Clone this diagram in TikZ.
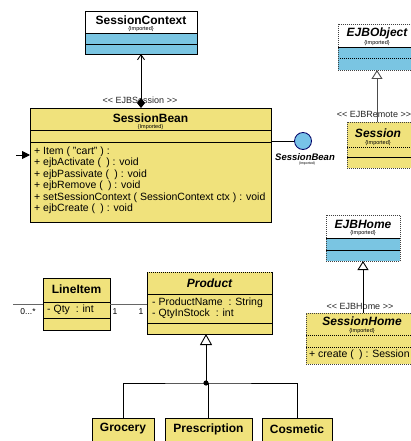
\documentclass[tikz,border=0pt]{standalone}
\usepackage{fontspec}
\setmainfont{Liberation Sans}
\usetikzlibrary{arrows.meta}
\definecolor{umlyellow}{RGB}{240,226,124}
\definecolor{umlblue}{RGB}{122,197,226}
\definecolor{circblue}{RGB}{120,195,232}
\begin{document}
\begin{tikzpicture}[x=1pt,y=-1pt,
  cbox/.style={draw=black, line width=0.8pt, inner sep=0pt, outer sep=0pt},
  dbox/.style={draw=black!75, line width=0.8pt, dash pattern=on 1pt off 1pt, inner sep=0pt, outer sep=0pt},
  sep/.style={line width=0.8pt},
  dsep/.style={line width=0.8pt, dash pattern=on 1pt off 1pt},
  ttl/.style={font=\fontsize{12}{14}\selectfont\bfseries, inner sep=0pt},
  ttli/.style={font=\fontsize{12}{14}\selectfont\bfseries\itshape, inner sep=0pt},
  imp/.style={font=\fontsize{5.5}{6}\selectfont, inner sep=0pt},
  mem/.style={font=\fontsize{10.5}{12}\selectfont, anchor=west, inner sep=0pt, text height=7.5pt, text depth=2pt},
  stereo/.style={font=\fontsize{9}{10}\selectfont, inner sep=0pt, text=black!85},
  mult/.style={font=\fontsize{8.5}{10}\selectfont, inner sep=0pt},
  conn/.style={line width=0.9pt},
  gconn/.style={line width=0.9pt, draw=black!60},
]
\clip (0,0) rectangle (411,441);
\fill[white] (0,0) rectangle (411,441);

% SessionContext
\node[cbox, fill=white, minimum width=112, minimum height=43] (sc) at (141,32.5) {};
\filldraw[fill=umlblue, sep] (85,33) rectangle (197,54);
\draw[sep] (85,44) -- (197,44);
\node[ttl] (sct) at (141,20) {SessionContext};
\node[imp] (sci) at (141,29) {\{Imported\}};

% SessionBean
\node[cbox, fill=umlyellow, minimum width=241, minimum height=114] (sb) at (150.5,165) {};
\draw[sep] (30,130) -- (271,130);
\draw[sep] (30,142) -- (271,142);
\node[ttl] (sbt) at (150.5,118) {SessionBean};
\node[imp] (sbi) at (150.5,127) {\{Imported\}};
\node[mem] (m1) at (34,151.5) {+ Item ( "cart" ) :};
\node[mem] (m2) at (34,163) {+ ejbActivate (\enspace) : void};
\node[mem] (m3) at (34,174.5) {+ ejbPassivate (\enspace) : void};
\node[mem] (m4) at (34,186) {+ ejbRemove (\enspace) : void};
\node[mem] (m5) at (34,197.5) {+ setSessionContext ( SessionContext ctx ) : void};
\node[mem] (m6) at (34,209) {+ ejbCreate (\enspace) : void};

% EJBSession link
\node[stereo] (st1) at (140,100) {{<}{<} EJBSession {>}{>}};
\draw[conn, {Diamond[length=10pt,width=8pt]}-{Straight Barb[length=5pt,width=7pt]}] (sb.north -| sc.south) -- (sc.south);

% incoming arrow
\coordinate (lin) at (16,155);
\draw[conn, -{Triangle[length=8pt,width=8pt]}] (lin) -- (lin -| sb.west);

% interface circle
\node[circle, draw=black!60!blue, fill=circblue, minimum size=17pt, inner sep=0pt, line width=0.8pt] (ci) at (303,141) {};
\draw[conn] (sb.east |- ci) -- (ci);
\node[font=\fontsize{9.5}{10}\selectfont\bfseries\itshape, inner sep=0pt] (cil) at (305,157) {SessionBean};
\node[font=\fontsize{3.5}{4}\selectfont, inner sep=0pt] (cii) at (307,164) {(Imported)};

% EJBObject
\node[dbox, fill=white, minimum width=78, minimum height=46] (eo) at (377,47) {};
\fill[umlblue] (338,47) rectangle (416,70);
\draw[sep] (338,47) -- (416,47);
\draw[dsep] (338,58) -- (416,58);
\draw[dsep, draw=black!75] (338,24) rectangle (416,70);
\node[ttli] (eot) at (377,33) {EJBObject};
\node[imp] (eoi) at (377,43) {\{Imported\}};

% Session
\node[dbox, fill=umlyellow, minimum width=73, minimum height=46] (ss) at (383.5,145) {};
\draw[dsep] (347,147) -- (420,147);
\draw[sep] (347,157) -- (420,157);
\node[ttli] (sst) at (378,133) {Session};
\node[imp] (ssi) at (378,143) {\{Imported\}};
\node[stereo] (st2) at (374,114) {{<}{<} EJBRemote {>}{>}};
\draw[conn, draw=black!70, {Triangle[open,length=9pt,width=11pt,fill=white]}-] (eo.south) -- (eo.south |- ss.north);

% EJBHome
\node[dbox, fill=white, minimum width=74, minimum height=46] (eh) at (363,238) {};
\fill[umlblue] (326,238) rectangle (400,261);
\draw[sep] (326,238) -- (400,238);
\draw[sep] (326,250) -- (400,250);
\draw[dsep, draw=black!75] (326,215) rectangle (400,261);
\node[ttli] (eht) at (363,224) {EJBHome};
\node[imp] (ehi) at (363,233) {\{Imported\}};

% SessionHome
\node[dbox, fill=umlyellow, minimum width=114, minimum height=51] (sh) at (363,338.5) {};
\draw[dsep] (306,335) -- (420,335);
\draw[dsep] (306,347) -- (420,347);
\node[ttli] (sht) at (362,321.5) {SessionHome};
\node[imp] (shi) at (362,331.5) {\{Imported\}};
\node[mem] (shm) at (309,355) {+ create (\enspace) : Session};
\node[stereo] (st3) at (360,306) {{<}{<} EJBHome {>}{>}};
\draw[conn, {Triangle[open,length=9pt,width=11pt,fill=white]}-] (eh.south) -- (eh.south |- sh.north);

% LineItem
\node[cbox, fill=umlyellow, minimum width=67, minimum height=52] (li) at (76.5,304) {};
\draw[sep] (43,302) -- (110,302);
\draw[sep] (43,318) -- (110,318);
\node[ttl] (lit) at (76.5,289) {LineItem};
\node[mem] (lim) at (47,310) {- Qty\ \ : int};

% Product
\node[fill=umlyellow, inner sep=0pt, outer sep=0pt, minimum width=125, minimum height=62] (pr) at (209.5,303) {};
\draw[sep] (pr.north west) -- (pr.south west) -- (pr.south east) -- (pr.north east);
\draw[dsep] (pr.north west) -- (pr.north east);
\draw[sep] (147,294) -- (272,294);
\draw[sep] (147,323) -- (272,323);
\node[ttli] (prt) at (209.5,283) {Product};
\node[mem] (pa1) at (152,303) {- ProductName\ \ : String};
\node[mem] (pa2) at (152,314) {- QtyInStock\ \ : int};

% LineItem links
\coordinate (lstub) at (13,304);
\draw[gconn] (lstub) -- (lstub -| li.west);
\draw[gconn] (li.east) -- (li.east -| pr.west);
\node[mult] (mu1) at (28,312) {0...*};
\node[mult] (mu2) at (115,312) {1};
\node[mult] (mu3) at (141,312) {1};

% subclasses
\node[cbox, fill=umlyellow, minimum width=62, minimum height=32] (gr) at (123,434) {};
\node[cbox, fill=umlyellow, minimum width=87, minimum height=32] (pc) at (208.5,434) {};
\node[cbox, fill=umlyellow, minimum width=70, minimum height=32] (co) at (297,434) {};
\node[ttl] (grt) at (123,429) {Grocery};
\node[ttl] (pct) at (208.5,429) {Prescription};
\node[ttl] (cot) at (297,429) {Cosmetic};

\coordinate (jn) at (206,383);
\draw[conn, {Triangle[open,length=11pt,width=12pt,fill=white]}-] (pr.south -| jn) -- (jn);
\draw[conn] (gr.north) |- (jn) -| (co.north);
\draw[conn] (pc.north |- jn) -- (pc.north);
\fill (jn) circle (2.6);
\end{tikzpicture}
\end{document}
